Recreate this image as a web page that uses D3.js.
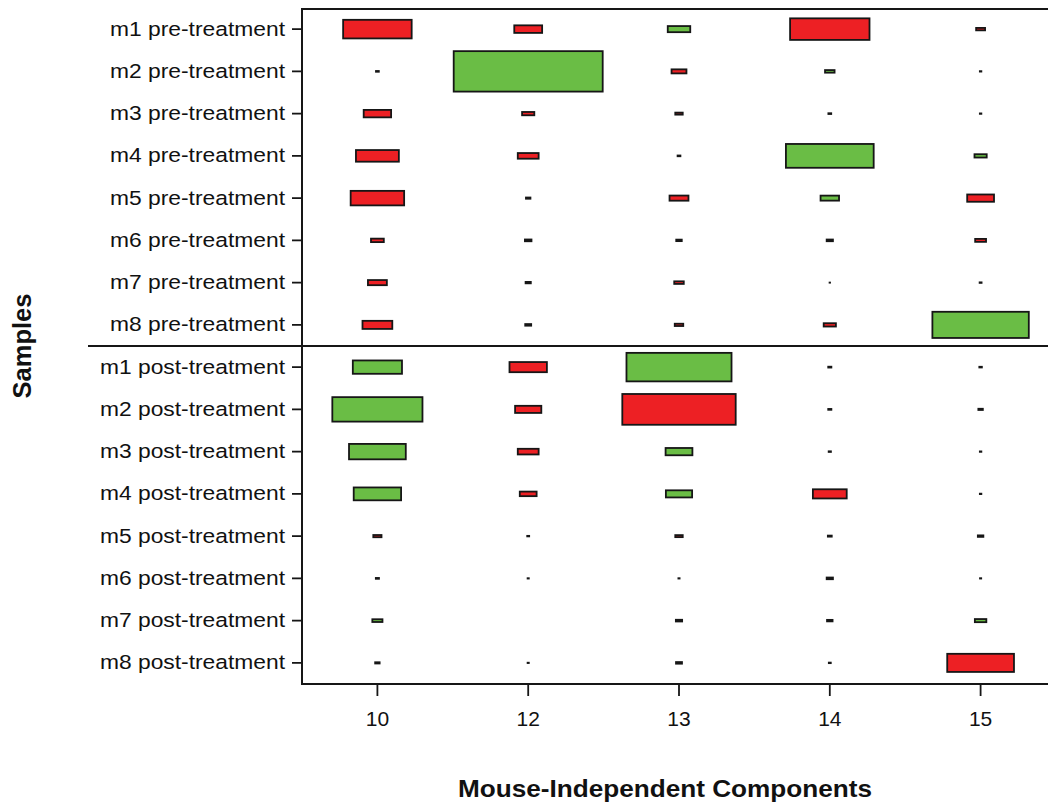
<!DOCTYPE html>
<html>
<head>
<meta charset="utf-8">
<script src="https://cdn.jsdelivr.net/npm/d3@7"></script>
<style>
  html, body { margin: 0; padding: 0; background: #fff; }
  svg { display: block; }
  text { font-family: "Liberation Sans", Arial, Helvetica, sans-serif; fill: #111; }
</style>
</head>
<body>
<svg id="chart" width="1048" height="805"></svg>
<script>
// Samples (rows, top to bottom) and independent components (columns)
const samples = [
  "m1 pre-treatment", "m2 pre-treatment", "m3 pre-treatment", "m4 pre-treatment",
  "m5 pre-treatment", "m6 pre-treatment", "m7 pre-treatment", "m8 pre-treatment",
  "m1 post-treatment", "m2 post-treatment", "m3 post-treatment", "m4 post-treatment",
  "m5 post-treatment", "m6 post-treatment", "m7 post-treatment", "m8 post-treatment"
];
const components = ["10", "12", "13", "14", "15"];

// Signed loadings of each sample on each component (positive = red, negative = green)
const comp10 = [0.46, 0.019, 0.184, 0.288, 0.359, 0.086, 0.127, 0.2, -0.33, -0.605, -0.381, -0.318, 0.055, 0.021, -0.068, 0.03];
const comp12 = [0.187, -1.0, 0.082, 0.14, 0.03, 0.044, 0.035, 0.04, 0.251, 0.176, 0.14, 0.113, 0.013, 0.008, 0, 0.008];
const comp13 = [-0.151, 0.10, 0.05, 0.019, 0.127, 0.037, 0.064, 0.057, -0.705, 0.761, -0.18, -0.176, 0.05, 0.008, 0.042, 0.04];
const comp14 = [0.533, -0.064, 0.019, -0.589, -0.124, 0.042, 0.003, 0.082, 0.021, 0.021, 0.015, 0.227, 0.026, 0.042, 0.037, 0.013];
const comp15 = [0.06, 0.01, 0.01, -0.082, 0.18, 0.073, 0.013, -0.647, 0.017, 0.03, 0.01, 0.01, 0.037, 0.008, -0.077, 0.448];

const xTitle = "Mouse-Independent Components";
const yTitle = "Samples";

const columns = [comp10, comp12, comp13, comp14, comp15];
const cells = [];
components.forEach((c, ci) => {
  samples.forEach((s, si) => {
    cells.push({ component: c, sample: s, value: columns[ci][si] });
  });
});

const svg = d3.select("#chart");
const plot = { left: 302, top: 8, right: 1056, bottom: 684 };
const strokeW = 1.8;

const x = d3.scaleBand().domain(components).range([plot.left, plot.right]).padding(0);
const y = d3.scaleBand().domain(samples).range([plot.top, plot.bottom]).padding(0);

const maxAbs = d3.max(cells, d => Math.abs(d.value));
const wScale = d3.scaleLinear().domain([0, maxAbs]).range([0, x.bandwidth() - strokeW]);
const hScale = d3.scaleLinear().domain([0, maxAbs]).range([0, y.bandwidth() - strokeW]);
const color = v => (v >= 0 ? "#ED2024" : "#6ABD45");

// Hinton-style boxes
svg.append("g")
  .selectAll("rect")
  .data(cells.filter(d => d.value !== 0))
  .join("rect")
  .attr("x", d => x(d.component) + x.bandwidth() / 2 - wScale(Math.abs(d.value)) / 2)
  .attr("y", d => y(d.sample) + y.bandwidth() / 2 - hScale(Math.abs(d.value)) / 2)
  .attr("width", d => wScale(Math.abs(d.value)))
  .attr("height", d => hScale(Math.abs(d.value)))
  .attr("fill", d => color(d.value))
  .attr("stroke", "#161616")
  .attr("stroke-width", strokeW);

// Frame around the plotting region
svg.append("rect")
  .attr("x", plot.left).attr("y", plot.top + 1)
  .attr("width", plot.right - plot.left).attr("height", plot.bottom - plot.top - 1)
  .attr("fill", "none").attr("stroke", "#161616").attr("stroke-width", 2);

// Separator between pre- and post-treatment samples
const sepY = y(samples[8]);
svg.append("line")
  .attr("x1", 88).attr("x2", plot.right)
  .attr("y1", sepY).attr("y2", sepY)
  .attr("stroke", "#161616").attr("stroke-width", 2);

// Axes
const yAxis = svg.append("g")
  .attr("transform", `translate(${plot.left},0)`)
  .call(d3.axisLeft(y).tickSize(10).tickPadding(7));
yAxis.select(".domain").remove();
yAxis.selectAll(".tick line").attr("stroke", "#161616").attr("stroke-width", 1.8);
yAxis.selectAll(".tick text")
  .attr("font-size", 20.5)
  .style("font-family", "'Liberation Sans', Arial, sans-serif")
  .attr("fill", "#111")
  .attr("textLength", d => d.includes("post") ? 185 : 175)
  .attr("lengthAdjust", "spacingAndGlyphs");

const xAxis = svg.append("g")
  .attr("transform", `translate(0,${plot.bottom})`)
  .call(d3.axisBottom(x).tickSize(12).tickPadding(15));
xAxis.select(".domain").remove();
xAxis.selectAll(".tick line").attr("stroke", "#161616").attr("stroke-width", 1.8);
xAxis.selectAll(".tick text")
  .attr("font-size", 21)
  .style("font-family", "'Liberation Sans', Arial, sans-serif")
  .attr("fill", "#111");

// Axis titles
svg.append("text")
  .attr("x", 665).attr("y", 797)
  .attr("text-anchor", "middle")
  .attr("font-size", 24).attr("font-weight", "bold")
  .attr("textLength", 414).attr("lengthAdjust", "spacingAndGlyphs")
  .text(xTitle);

svg.append("text")
  .attr("transform", "translate(31,346) rotate(-90)")
  .attr("text-anchor", "middle")
  .attr("font-size", 25).attr("font-weight", "bold")
  .attr("textLength", 105).attr("lengthAdjust", "spacingAndGlyphs")
  .text(yTitle);
</script>
</body>
</html>
